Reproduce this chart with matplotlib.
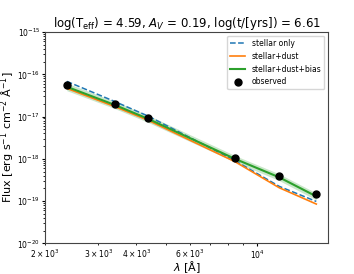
import matplotlib
matplotlib.use('Agg')
import matplotlib.pyplot as plt
import numpy as np

# filter pivot wavelengths [A]
wave = [2360, 3390, 4365, 8430, 11800, 15630]
# observed fluxes
obs_flux = [5.65e-17, 2.0e-17, 9.46e-18, 1.02e-18, 3.85e-19, 1.47e-19]
# model fluxes
stellar_only = [6.8e-17, 2.28e-17, 1.03e-17, 9.1e-19, 2.23e-19, 9.8e-20]
stellar_dust = [4.65e-17, 1.73e-17, 8.2e-18, 8.6e-19, 2.07e-19, 8.5e-20]
stellar_dust_bias = [5.07e-17, 1.89e-17, 8.87e-18, 1.0e-18, 3.65e-19, 1.29e-19]
bias_lo = [4.1e-17, 1.55e-17, 7.3e-18, 8.4e-19, 3.05e-19, 1.06e-19]
bias_hi = [6.2e-17, 2.3e-17, 1.08e-17, 1.2e-18, 4.4e-19, 1.55e-19]

fig, ax = plt.subplots(figsize=(3.54, 2.74), dpi=100)
ax.plot(wave, stellar_only, '--', color='C0', lw=1.1, label='stellar only')
ax.plot(wave, stellar_dust, '-', color='C1', lw=1.2, label='stellar+dust')
ax.plot(wave, stellar_dust_bias, '-', color='C2', lw=1.5, label='stellar+dust+bias')
ax.fill_between(wave, bias_lo, bias_hi, color='C2', alpha=0.25, lw=0)
ax.plot(wave, obs_flux, 'o', color='k', ms=5, label='observed')

ax.set_xscale('log')
ax.set_yscale('log')
ax.set_xlim(2000, 17100)
ax.set_ylim(1e-20, 1e-15)
ax.tick_params(labelsize=5.5, length=2, pad=1.5)
ax.tick_params(which='minor', labelsize=5.5, length=1.5, pad=1.5)
ax.set_xlabel(r'$\lambda$ [Å]', fontsize=8, labelpad=-1)
ax.set_ylabel(r'Flux [erg s$^{-1}$ cm$^{-2}$ Å$^{-1}$]', fontsize=8, labelpad=0)
ax.set_title(r'log(T$_{\rm eff}$) = 4.59, $A_V$ = 0.19, log(t/[yrs]) = 6.61', fontsize=8.5, pad=2)
ax.legend(fontsize=5.5, loc='upper right')
for s in ax.spines.values():
    s.set_color('#444444')

plt.subplots_adjust(left=0.127, right=0.927, top=0.883, bottom=0.112)
plt.savefig('out.png', dpi=100)
